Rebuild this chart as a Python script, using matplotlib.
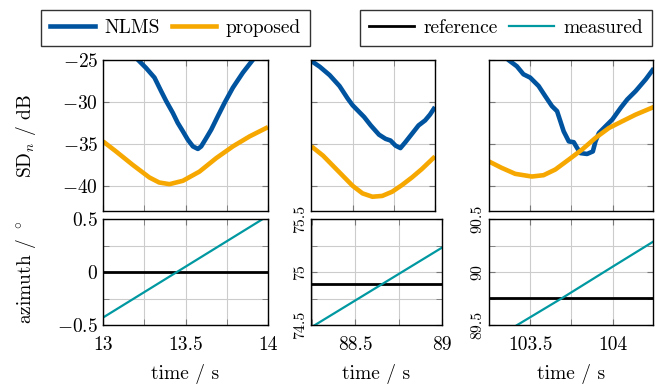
import matplotlib
matplotlib.use("Agg")
import matplotlib.pyplot as plt
from matplotlib.ticker import MultipleLocator, FuncFormatter
from matplotlib.lines import Line2D

plt.rcParams['font.family'] = ['cmr10', 'DejaVu Serif']
plt.rcParams['mathtext.fontset'] = 'cm'
plt.rcParams['axes.formatter.use_mathtext'] = True
plt.rcParams['axes.unicode_minus'] = True

# ---------------- data ----------------
# panel 1 (13 .. 14 s)
nlms_t1 = [13.17, 13.211, 13.261, 13.312, 13.352, 13.383, 13.423, 13.453, 13.484, 13.514,
           13.545, 13.575, 13.595, 13.626, 13.656, 13.696, 13.737, 13.787, 13.848, 13.909,
           13.95]
nlms_sd1 = [-24.0, -24.96, -25.95, -27.1, -28.7, -29.9, -31.3, -32.5, -33.5, -34.5,
            -35.3, -35.6, -35.3, -34.3, -33.3, -31.7, -30.1, -28.3, -26.5, -24.96,
            -24.0]
prop_t1 = [13.0, 13.079, 13.18, 13.281, 13.34, 13.403, 13.484, 13.585, 13.686, 13.787,
           13.889, 14.0]
prop_sd1 = [-34.7, -35.9, -37.5, -39.0, -39.6, -39.8, -39.4, -38.3, -36.7, -35.3,
            -34.1, -33.0]
meas_t1 = [13.0, 13.5, 14.0]
meas_az1 = [-0.43, 0.05, 0.53]
ref_az1 = 0.0

# panel 2 (88.25 .. 89 s)
nlms_t2 = [88.248, 88.30, 88.36, 88.42, 88.47, 88.50, 88.53, 88.57, 88.61, 88.66, 88.70,
           88.73, 88.76, 88.79, 88.82, 88.86, 88.90, 88.94, 88.97, 89.0]
nlms_sd2 = [-25.1, -25.8, -26.8, -28.1, -29.6, -30.4, -31.0, -31.8, -32.8, -33.9, -34.4,
            -34.6, -35.2, -35.5, -34.8, -33.8, -32.8, -32.2, -31.5, -30.6]
prop_t2 = [88.25, 88.32, 88.38, 88.44, 88.50, 88.56, 88.62, 88.68, 88.74, 88.80, 88.86,
           88.92, 89.0]
prop_sd2 = [-35.3, -36.4, -37.6, -38.8, -40.0, -40.9, -41.3, -41.2, -40.7, -39.9, -39.0,
            -38.0, -36.5]
meas_t2 = [88.25, 88.65, 89.0]
meas_az2 = [74.48, 74.88, 75.23]
ref_az2 = 74.89

# panel 3 (103.25 .. 104.25 s)
nlms_t3 = [103.33, 103.368, 103.419, 103.459, 103.5, 103.551, 103.591, 103.632, 103.663,
           103.683, 103.703, 103.734, 103.764, 103.785, 103.805, 103.845, 103.88, 103.896,
           103.917, 103.947, 103.998, 104.049, 104.089, 104.14, 104.201, 104.25]
nlms_sd3 = [-24.2, -25.0, -25.75, -26.7, -27.1, -28.1, -29.3, -30.5, -31.1,
            -32.3, -33.5, -34.7, -34.8, -35.5, -36.1, -36.2, -35.9, -34.7,
            -33.7, -33.1, -32.1, -30.7, -29.7, -28.7, -27.3, -26.0]
prop_t3 = [103.246, 103.327, 103.409, 103.51, 103.581, 103.652, 103.734, 103.815, 103.896,
           103.978, 104.059, 104.14, 104.25]
prop_sd3 = [-37.06, -37.86, -38.57, -38.89, -38.73, -38.06, -36.87, -35.67, -34.29,
            -33.1, -32.3, -31.51, -30.6]
meas_t3 = [103.4, 103.7, 104.0, 104.25]
meas_az3 = [89.48, 89.76, 90.05, 90.29]
ref_az3 = 89.755

xlims = [(13.0, 14.0), (88.247, 89.0), (103.25, 104.245)]
az_lims = [(-0.5, 0.5), (74.5, 75.5), (89.5, 90.5)]
sd_lim = (-43.0, -25.0)

C_NLMS = '#00549F'
C_PROP = '#F6A800'
C_MEAS = '#0098A1'
C_REF = 'black'

W, H = 663, 385
fig = plt.figure(figsize=(W / 100, H / 100), dpi=100)

def ax_px(x0, x1, y0, y1):
    return fig.add_axes([x0 / W, 1 - y1 / H, (x1 - x0) / W, (y1 - y0) / H])

top_px = [(103, 268), (311, 435), (489, 653)]
bot_px = [(103, 268), (311, 442), (489, 653)]

nlms = [(nlms_t1, nlms_sd1), (nlms_t2, nlms_sd2), (nlms_t3, nlms_sd3)]
prop = [(prop_t1, prop_sd1), (prop_t2, prop_sd2), (prop_t3, prop_sd3)]
meas = [(meas_t1, meas_az1), (meas_t2, meas_az2), (meas_t3, meas_az3)]
refs = [ref_az1, ref_az2, ref_az3]

def style(ax):
    ax.grid(True, which='both', color='#cccccc', lw=0.8)
    ax.set_axisbelow(True)
    ax.tick_params(which='both', direction='in', length=4, color='#777777',
                   top=True, right=True, labelsize=14)
    for s in ax.spines.values():
        s.set_linewidth(1.0)
        s.set_color('black')

for i in range(3):
    axt = ax_px(top_px[i][0], top_px[i][1], 60, 211)
    axb = ax_px(bot_px[i][0], bot_px[i][1], 219, 325)
    for ax in (axt, axb):
        ax.set_xlim(*xlims[i])
        ax.xaxis.set_major_locator(MultipleLocator(0.5))
        ax.xaxis.set_minor_locator(MultipleLocator(0.25))
        style(ax)
    axt.plot(*nlms[i], color=C_NLMS, lw=3.3, solid_capstyle='butt', solid_joinstyle='round')
    axt.plot(*prop[i], color=C_PROP, lw=3.3, solid_capstyle='butt', solid_joinstyle='round')
    axt.set_ylim(*sd_lim)
    axt.yaxis.set_major_locator(MultipleLocator(5))
    axt.tick_params(labelbottom=False)

    axb.axhline(refs[i], color=C_REF, lw=2.0)
    axb.plot(*meas[i], color=C_MEAS, lw=1.6)
    axb.set_ylim(*az_lims[i])
    axb.yaxis.set_major_locator(MultipleLocator(0.5))
    axb.yaxis.set_minor_locator(MultipleLocator(0.25))
    axb.xaxis.set_major_formatter(FuncFormatter(lambda v, p: '%g' % v))
    axb.tick_params(axis='x', pad=8)
    axb.set_xlabel('time / s', fontsize=14, labelpad=7)
    if i == 0:
        axt.yaxis.set_major_formatter(FuncFormatter(lambda v, p: '$%d$' % v))
        axb.yaxis.set_major_formatter(FuncFormatter(lambda v, p: '$%g$' % v))
        axt.set_ylabel('SD$_n$ / dB', fontsize=14, va='center')
        axb.set_ylabel('azimuth / $^\\circ$', fontsize=14, va='center')
        axt.yaxis.set_label_coords((26 - 103) / 165, 0.5)
        axb.yaxis.set_label_coords((26 - 103) / 165, 0.5)
    else:
        axt.tick_params(labelleft=False)
        axb.yaxis.set_major_formatter(FuncFormatter(lambda v, p: '%g' % v))
        axb.tick_params(axis='y', labelsize=11.5, labelrotation=90, pad=3)
        for lab in axb.get_yticklabels():
            lab.set_va('center')

# legends
h1 = [Line2D([], [], color=C_NLMS, lw=3.3), Line2D([], [], color=C_PROP, lw=3.3)]
h2 = [Line2D([], [], color=C_REF, lw=2.0), Line2D([], [], color=C_MEAS, lw=1.6)]
kw = dict(ncol=2, fontsize=14, frameon=True, fancybox=False, edgecolor='black',
          handlelength=2.3, handletextpad=0.5, columnspacing=0.6, borderpad=0.45,
          loc='center')
l1 = fig.legend(h1, ['NLMS', 'proposed'], bbox_to_anchor=(175.5 / W, 1 - 28 / H), **kw)
l2 = fig.legend(h2, ['reference', 'measured'], bbox_to_anchor=(506 / W, 1 - 28 / H), **kw)
for l in (l1, l2):
    l.get_frame().set_linewidth(1.0)

fig.savefig('out.png', dpi=100)
